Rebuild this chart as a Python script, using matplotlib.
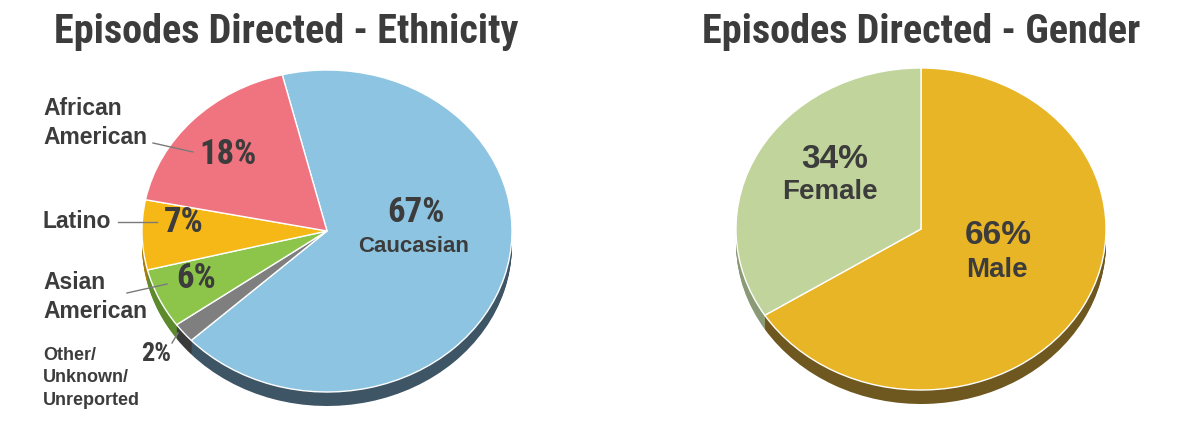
import numpy as np
import matplotlib
matplotlib.use("Agg")
import matplotlib.pyplot as plt
from matplotlib import font_manager

# data
eth_labels = ["Caucasian", "Other/Unknown/Unreported", "Asian American", "Latino", "African American"]
eth_values = [67, 2, 6, 7, 18]
eth_colors = ["#8cc4e1", "#7f7f7f", "#8dc54b", "#f6b817", "#f07480"]
eth_side = ["#3e5565", "#3a3a3a", "#5c8a2c", "#a87d10", "#a84c55"]

gen_labels = ["Male", "Female"]
gen_values = [66, 34]
gen_colors = ["#e8b526", "#c1d49b"]
gen_side = ["#6e5820", "#8b9a76"]

TXT = "#3c3c3c"
W, H = 1200, 429

names = set(f.name for f in font_manager.fontManager.ttflist)


def pick(prefs):
    for p in prefs:
        if p in names:
            return p
    return "DejaVu Sans"


TITLE_FONT = pick(["Roboto Condensed", "Barlow Condensed", "Asap Condensed"])
NARROW = pick(["Roboto Condensed", "Barlow Condensed", "Asap Condensed"])
BOLD = pick(["Liberation Sans", "Arimo", "DejaVu Sans"])

fig = plt.figure(figsize=(W / 100, H / 100), dpi=100)


def pie3d(cx, top, rx, ry, depth, values, colors, side, start):
    # axes sized so the unit pie becomes an ellipse
    d = depth / ry
    ax = fig.add_axes([(cx - rx) / W, (H - (top + 2 * ry + depth)) / H,
                       2 * rx / W, (2 * ry + depth) / H])
    n = 14
    for k in range(n, 0, -1):
        ax.pie(values, colors=side, startangle=start, counterclock=False,
               center=(0, -d * k / n), radius=1,
               wedgeprops=dict(linewidth=0, antialiased=True))
    ax.pie(values, colors=colors, startangle=start, counterclock=False,
           center=(0, 0), radius=1,
           wedgeprops=dict(linewidth=1, edgecolor="white"))
    ax.set_aspect("auto")
    ax.set_xlim(-1, 1)
    ax.set_ylim(-1 - d, 1)
    ax.axis("off")
    return ax


pie3d(327, 70, 185, 161, 14, eth_values, eth_colors, eth_side, 104)
pie3d(921, 68, 185, 161, 14, gen_values, gen_colors, gen_side, 90)

# overlay for text in pixel coordinates
tx = fig.add_axes([0, 0, 1, 1], facecolor="none")
tx.set_xlim(0, W)
tx.set_ylim(H, 0)
tx.axis("off")

tx.text(286, 32, "Episodes Directed - Ethnicity", ha="center", va="center",
        fontsize=29, fontweight=900, family=TITLE_FONT, color=TXT)
tx.text(921, 32, "Episodes Directed - Gender", ha="center", va="center",
        fontsize=29, fontweight=900, family=TITLE_FONT, color=TXT)

# left pie values
tx.text(416, 213, "67%", ha="center", va="center", fontsize=25, fontweight="bold", family=NARROW, color=TXT)
tx.text(414, 246, "Caucasian", ha="center", va="center", fontsize=16, fontweight="bold", family=BOLD, color=TXT)
tx.text(228, 154, "18%", ha="center", va="center", fontsize=25, fontweight="bold", family=NARROW, color=TXT)
tx.text(184, 222, "7%", ha="center", va="center", fontsize=25, fontweight="bold", family=NARROW, color=TXT)
tx.text(196, 278, "6%", ha="center", va="center", fontsize=25, fontweight="bold", family=NARROW, color=TXT)
tx.text(156, 354, "2%", ha="center", va="center", fontsize=19, fontweight="bold", family=NARROW, color=TXT)

# left labels
tx.text(43, 123, "African\nAmerican", ha="left", va="center", fontsize=16.5, fontweight="bold",
        family=BOLD, color=TXT, linespacing=1.3)
tx.text(43, 221, "Latino", ha="left", va="center", fontsize=16.5, fontweight="bold", family=BOLD, color=TXT)
tx.text(43, 297, "Asian\nAmerican", ha="left", va="center", fontsize=16.5, fontweight="bold",
        family=BOLD, color=TXT, linespacing=1.3)
tx.text(43, 378, "Other/\nUnknown/\nUnreported", ha="left", va="center", fontsize=13, fontweight="bold",
        family=BOLD, color=TXT, linespacing=1.4)

# leader lines
for (x0, y0), (x1, y1) in [((153, 143), (193, 152)), ((118, 222), (157, 222)),
                           ((127, 293), (167, 284)), ((172, 343), (178, 333))]:
    tx.plot([x0, x1], [y0, y1], color="#7a7a7a", lw=1)

# right pie values
tx.text(835, 159, "34%", ha="center", va="center", fontsize=24, fontweight="bold", family=BOLD, color=TXT)
tx.text(830, 192, "Female", ha="center", va="center", fontsize=20, fontweight="bold", family=BOLD, color=TXT)
tx.text(998, 236, "66%", ha="center", va="center", fontsize=24, fontweight="bold", family=BOLD, color=TXT)
tx.text(997, 270, "Male", ha="center", va="center", fontsize=20, fontweight="bold", family=BOLD, color=TXT)

fig.savefig("out.png", dpi=100)
